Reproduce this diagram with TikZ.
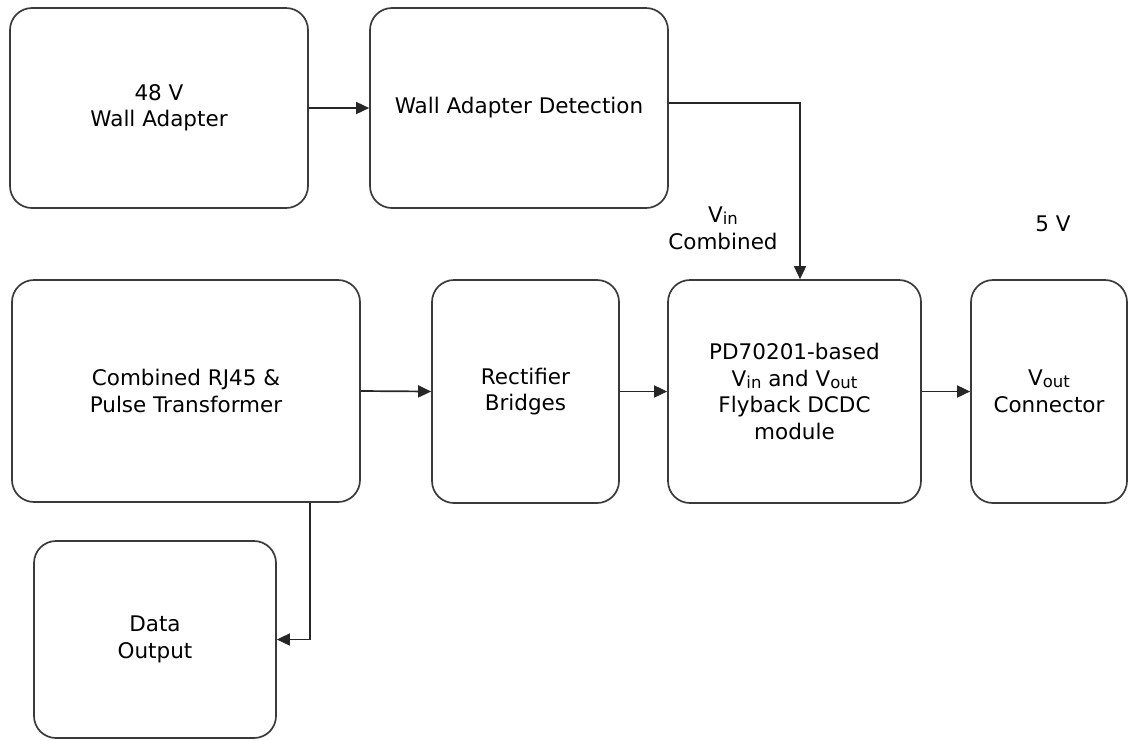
\documentclass[tikz,border=0pt]{standalone}
\usepackage{fontspec}
\setmainfont{DejaVu Sans}
\usetikzlibrary{arrows.meta}
\newcommand\mysub[1]{\raisebox{-2pt}{\fontsize{16.5}{16.5}\selectfont #1}}
\definecolor{boxline}{HTML}{3A3A3A}
\tikzset{
  blk/.style={draw=boxline, line width=1.7pt, rounded corners=22pt, align=center,
    font=\fontsize{21.5}{26.5}\selectfont, inner sep=0pt},
  arr/.style={draw=black!85, line width=1.7pt, -{Triangle[length=13pt,width=12pt]}},
  lbl/.style={align=center, font=\fontsize{21.5}{26.5}\selectfont, inner sep=0pt}
}
\begin{document}
\begin{tikzpicture}[x=1pt,y=-1pt]
\useasboundingbox (0,0) rectangle (1137,740);
\node[blk, minimum width=298pt, minimum height=200pt] (b1) at (159,108) {48 V\\Wall Adapter};
\node[blk, minimum width=298pt, minimum height=200pt] (b2) at (519,108) {\raisebox{5pt}{Wall Adapter Detection}};
\node[blk, minimum width=348pt, minimum height=222pt] (b3) at (186,391) {Combined RJ45 \&\\Pulse Transformer};
\node[blk, minimum width=187pt, minimum height=223pt] (b4) at (525.5,391.5) {Rectifier\\Bridges};
\node[blk, minimum width=253pt, minimum height=223pt] (b5) at (794.5,391.5) {PD70201-based\\V\mysub{in} and V\mysub{out}\\Flyback DCDC\\module};
\node[blk, minimum width=156pt, minimum height=223pt] (b6) at (1049,391.5) {V\mysub{out}\\Connector};
\node[blk, minimum width=242pt, minimum height=197pt] (b7) at (155,639.5) {Data\\Output};
\node[lbl] (vin) at (723,228.5) {V\mysub{in}\\Combined};
\node[lbl] (five) at (1053,224) {5 V};
\draw[arr] (b1.east) -- (b2.west);
\draw[arr] ([yshift=5pt]b2.east) -| ([xshift=5.5pt]b5.north);
\draw[arr] (b3.east) -- (b4.west);
\draw[arr] (b4.east) -- (b5.west);
\draw[arr] (b5.east) -- (b6.west);
\draw[arr] ([xshift=124pt]b3.south) |- (b7.east);
\end{tikzpicture}
\end{document}
